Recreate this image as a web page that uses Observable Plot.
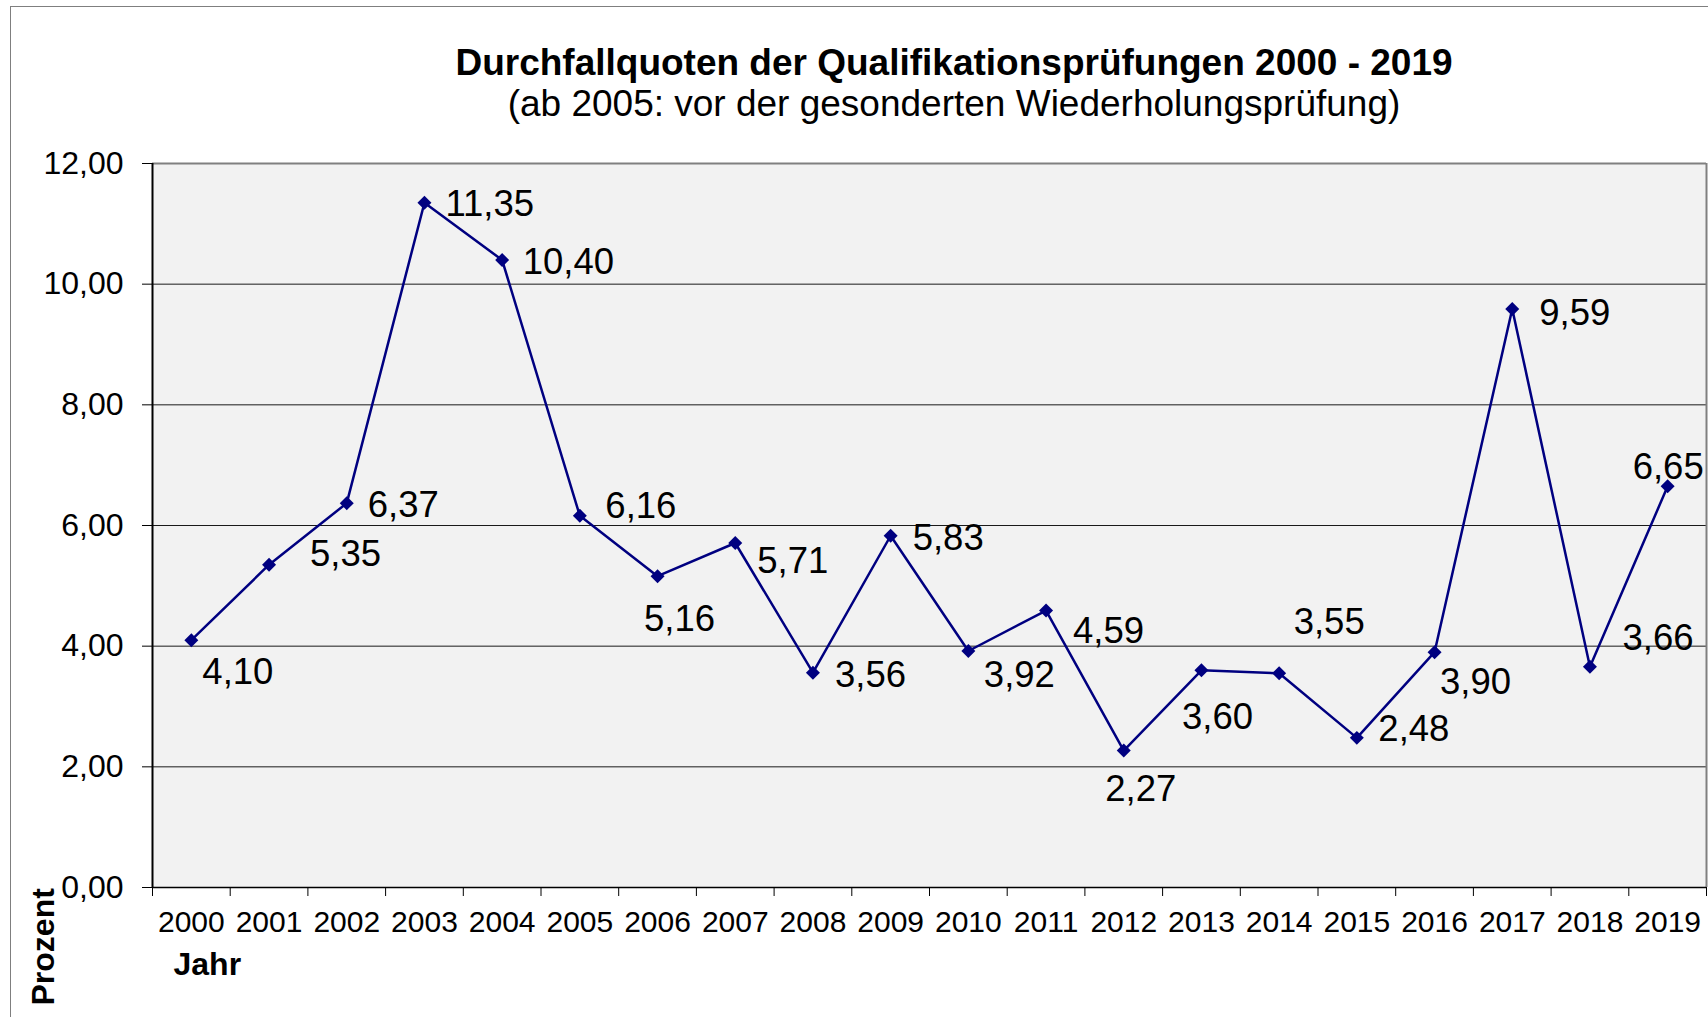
<!DOCTYPE html>
<html>
<head>
<meta charset="utf-8">
<script src="https://cdn.jsdelivr.net/npm/d3@7"></script>
<script src="https://cdn.jsdelivr.net/npm/@observablehq/plot@0.6"></script>
<style>
  body { margin: 0; background: #fff; font-family: "Liberation Sans", Arial, sans-serif; }
  #wrap { position: relative; width: 1708px; height: 1017px; overflow: hidden; }
  #border { position: absolute; left: 10px; top: 6px; right: -5px; bottom: -5px;
            border-left: 1px solid #7f7f7f; border-top: 1px solid #7f7f7f; }
  #head { position: absolute; left: 254px; width: 1400px; top: 43px; text-align: center; color: #000; }
  #head .t { font-weight: bold; font-size: 37px; line-height: 40px; white-space: nowrap; }
  #head .s { font-size: 37px; line-height: 42px; white-space: nowrap; }
  #plot { position: absolute; left: 0; top: 130px; }
</style>
</head>
<body>
<div id="wrap">
  <div id="border"></div>
  <div id="head">
    <div class="t">Durchfallquoten der Qualifikationsprüfungen 2000 - 2019</div>
    <div class="s">(ab 2005: vor der gesonderten Wiederholungsprüfung)</div>
  </div>
  <div id="plot"></div>
</div>
<script>
// ---- data ----
const years = ["2000","2001","2002","2003","2004","2005","2006","2007","2008","2009",
               "2010","2011","2012","2013","2014","2015","2016","2017","2018","2019"];
const quoten = [4.10, 5.35, 6.37, 11.35, 10.40, 6.16, 5.16, 5.71, 3.56, 5.83,
                3.92, 4.59, 2.27, 3.60, 3.55, 2.48, 3.90, 9.59, 3.66, 6.65];
const yTicks = [0, 2, 4, 6, 8, 10, 12];
const xTitle = "Jahr";
const yTitle = "Prozent";

// ---- layout (label placement, px offsets from each point) ----
const labelOffsets = [
  [11, 32], [41, -10], [21, 2], [21, 1.5], [20.5, 2], [25.5, -10], [-13.5, 43],
  [22, 18.5], [22, 2.5], [22, 3], [15.5, 24.5], [27, 20.5], [-18.5, 38.5],
  [-19.5, 47.5], [14.5, -51], [21.5, -8.5], [5.5, 30.5], [27, 4.5], [32.5, -28.5], [-35, -19]
];

const fmt = v => d3.format(".2f")(v).replace(".", ",");
const n = years.length;
const idx = d3.range(n);
const xc = i => i + 0.5;
const yv = i => quoten[i];

const chart = Plot.plot({
  width: 1708,
  height: 887,
  marginLeft: 152,
  marginRight: 2,
  marginTop: 33,
  marginBottom: 130,
  style: { fontFamily: '"Liberation Sans", Arial, sans-serif', fontSize: "30px", color: "#000", background: "transparent", overflow: "visible" },
  x: { type: "linear", domain: [0, n] },
  y: { domain: [yTicks[0], yTicks[yTicks.length - 1]] },
  marks: [
    Plot.frame({ fill: "#f2f2f2" }),
    Plot.ruleY(yTicks.filter(t => t > yTicks[0] && t < yTicks[yTicks.length - 1]), { stroke: "#1a1a1a", strokeWidth: 1 }),
    Plot.ruleY([yTicks[yTicks.length - 1]], { stroke: "#808080", strokeWidth: 2 }),
    Plot.ruleX([n], { stroke: "#808080", strokeWidth: 2 }),
    Plot.ruleX([0], { stroke: "#000", strokeWidth: 2 }),
    Plot.ruleY([yTicks[0]], { stroke: "#000", strokeWidth: 1.5 }),
    Plot.axisY({ ticks: yTicks, tickFormat: fmt, tickSize: 10, tickPadding: 19, label: null, fontSize: 32 }),
    Plot.axisX({ ticks: d3.range(n + 1), tickFormat: () => "", tickSize: 9, label: null }),
    Plot.axisX({ ticks: idx.map(xc), tickFormat: d => years[Math.floor(d)], tickSize: 0, tickPadding: 23, label: null, fontSize: 30 }),
    Plot.line(idx, { x: xc, y: yv, stroke: "#000080", strokeWidth: 2.5 }),
    Plot.dot(idx, { x: xc, y: yv, symbol: "diamond2", r: 6.3, fill: "#000080" }),
    ...idx.map(i => Plot.text([i], {
      x: xc, y: yv, text: j => fmt(quoten[j]),
      textAnchor: "start", dx: labelOffsets[i][0], dy: labelOffsets[i][1],
      fontSize: 36.5, fill: "#000"
    })),
    Plot.text([xTitle], { text: d => d, frameAnchor: "bottom-left", dx: 21, dy: 87, textAnchor: "start", lineAnchor: "bottom", fontWeight: "bold", fontSize: 32, fill: "#000" }),
    Plot.text([yTitle], { text: d => d, frameAnchor: "bottom-left", dx: -99, dy: 118, rotate: -90, textAnchor: "start", lineAnchor: "bottom", fontWeight: "bold", fontSize: 32, fill: "#000" })
  ]
});
document.getElementById("plot").appendChild(chart);
</script>
</body>
</html>
